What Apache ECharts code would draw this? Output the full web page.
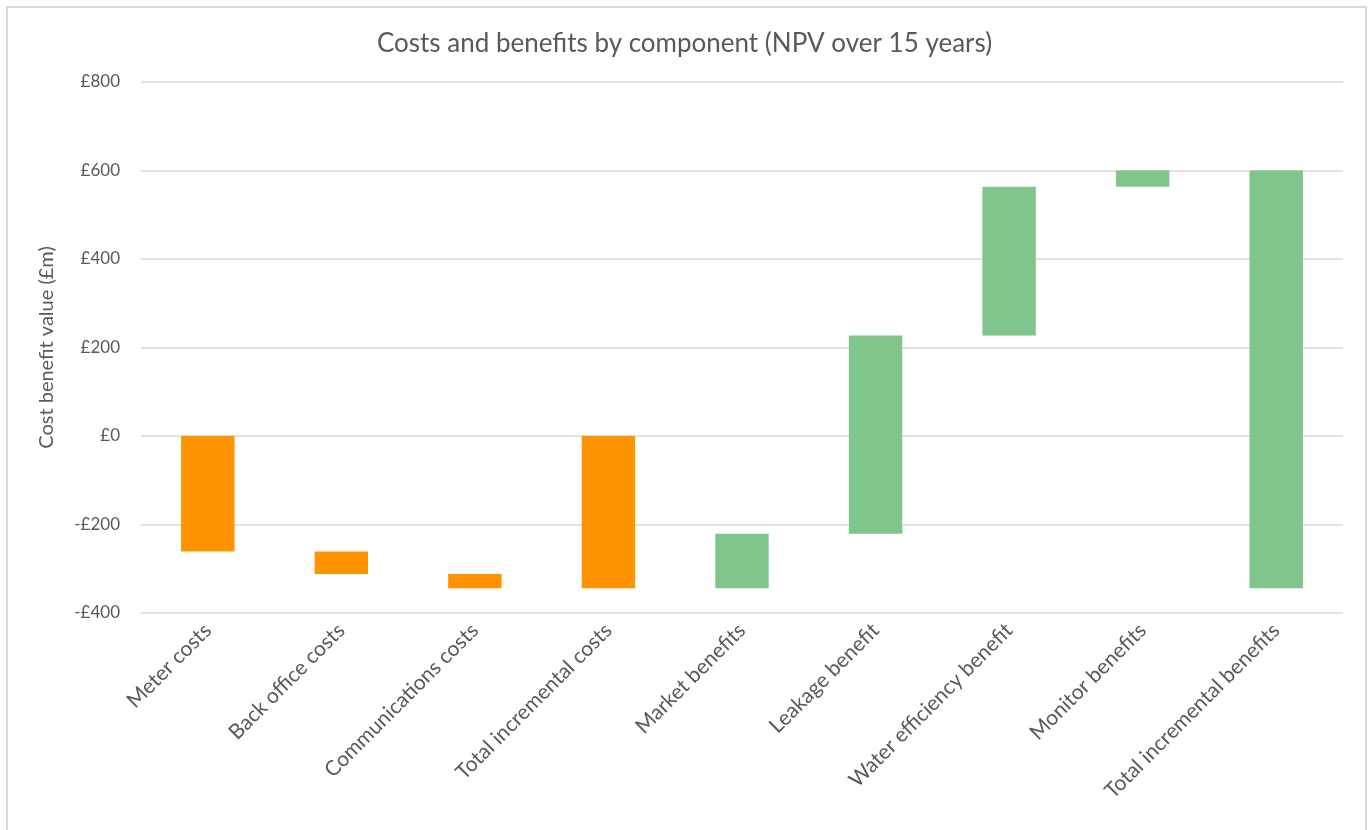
<!DOCTYPE html>
<html>
<head>
<meta charset="utf-8">
<title>Costs and benefits by component</title>
<script src="https://cdn.jsdelivr.net/npm/echarts@6/dist/echarts.min.js"></script>
<style>
  html, body { margin: 0; padding: 0; background: #ffffff; }
  #chart { width: 1369px; height: 830px; }
</style>
</head>
<body>
<div id="chart"></div>
<script>
// Components of the cost–benefit waterfall (£m, NPV over 15 years)
const categories = [
  'Meter costs',
  'Back office costs',
  'Communications costs',
  'Total incremental costs',
  'Market benefits',
  'Leakage benefit',
  'Water efficiency benefit',
  'Monitor benefits',
  'Total incremental benefits'
];
// Where each floating bar starts and ends
const barStart = [0, -261, -312, 0, -344, -221, 227, 563, -344];
const barEnd   = [-261, -312, -344, -344, -221, 227, 563, 600, 600];
// 'cost' or 'benefit' for each component
const kinds = ['cost', 'cost', 'cost', 'cost', 'benefit', 'benefit', 'benefit', 'benefit', 'benefit'];
// Value axis ticks
const yTicks = { min: -400, max: 800, interval: 200 };

const palette = { cost: '#ff9300', benefit: '#7fc58c' };
const textColor = '#595959';
const fontFamily = 'Lato, "Open Sans", sans-serif';

const chart = echarts.init(document.getElementById('chart'));

const data = categories.map((c, i) => [i, barStart[i], barEnd[i], kinds[i]]);

chart.setOption({
  backgroundColor: '#ffffff',
  animation: false,
  title: {
    text: 'Costs and benefits by component (NPV over 15 years)',
    left: 'center',
    top: 26,
    textStyle: { color: textColor, fontSize: 26, fontWeight: 'normal', fontFamily }
  },
  graphic: [{
    type: 'rect',
    shape: { x: 7, y: 7, width: 1359, height: 830 },
    style: { fill: 'none', stroke: '#d9d9d9', lineWidth: 2 },
    silent: true
  }],
  grid: { left: 141, right: 26, top: 82, bottom: 217, containLabel: false },
  xAxis: {
    type: 'category',
    data: categories,
    axisLine: { show: false },
    axisTick: { show: false },
    axisLabel: {
      interval: 0,
      rotate: 45,
      margin: 14,
      color: textColor,
      fontSize: 21,
      fontFamily
    }
  },
  yAxis: {
    type: 'value',
    min: yTicks.min,
    max: yTicks.max,
    interval: yTicks.interval,
    name: 'Cost benefit value (£m)',
    nameLocation: 'middle',
    nameGap: 84,
    nameTextStyle: { color: textColor, fontSize: 20, fontFamily },
    axisLine: { show: false },
    axisTick: { show: false },
    splitLine: { lineStyle: { color: '#d9d9d9', width: 1.5 } },
    axisLabel: {
      margin: 21,
      color: textColor,
      fontSize: 17,
      fontFamily,
      formatter: v => (v < 0 ? '-£' + Math.abs(v) : '£' + v)
    }
  },
  series: [{
    type: 'custom',
    data: data,
    encode: { x: 0, y: [1, 2] },
    renderItem: function (params, api) {
      const idx = api.value(0);
      const p0 = api.coord([idx, api.value(1)]);
      const p1 = api.coord([idx, api.value(2)]);
      const band = api.size([1, 0])[0];
      const w = band * 0.4;
      const kind = kinds[params.dataIndex];
      return {
        type: 'rect',
        shape: {
          x: p0[0] - w / 2,
          y: Math.min(p0[1], p1[1]),
          width: w,
          height: Math.abs(p1[1] - p0[1])
        },
        style: { fill: palette[kind] }
      };
    }
  }]
});
</script>
</body>
</html>
